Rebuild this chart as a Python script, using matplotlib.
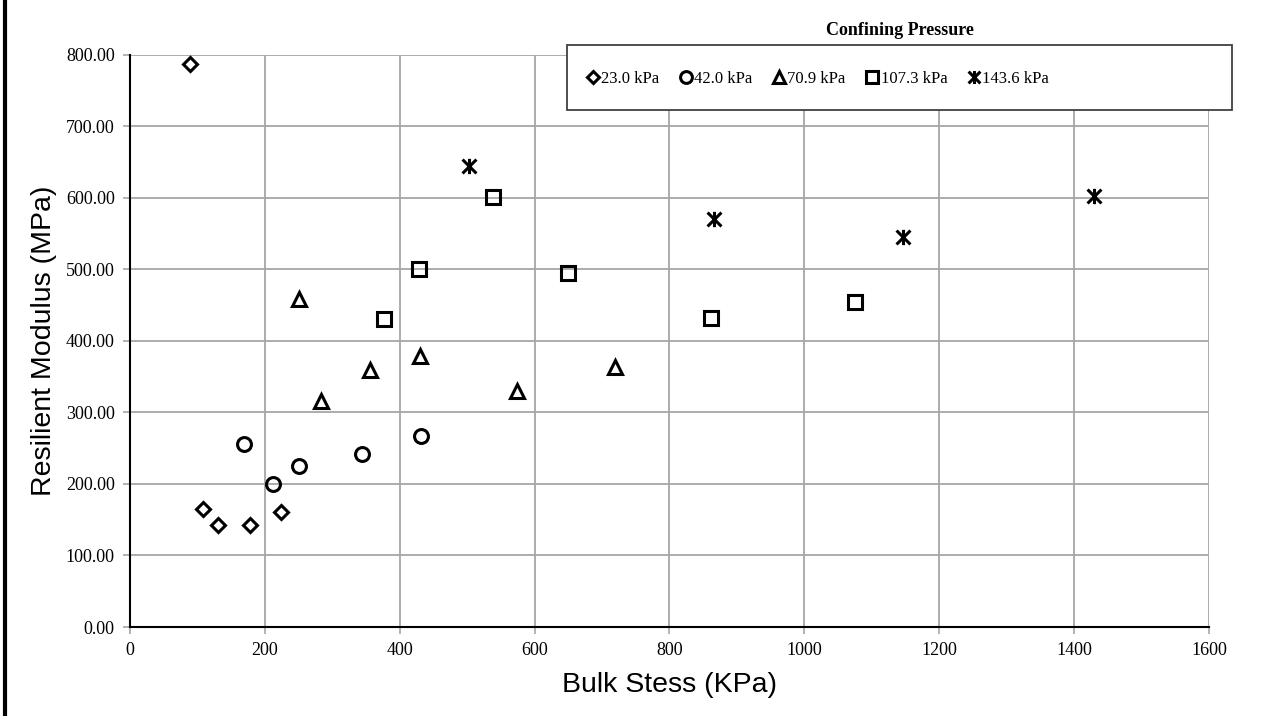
import matplotlib
matplotlib.use("Agg")
from matplotlib import pyplot as plt
from matplotlib.path import Path
from matplotlib.patches import Rectangle
from matplotlib.lines import Line2D
from matplotlib.ticker import FormatStrFormatter

# Bulk stress (kPa) vs. resilient modulus (MPa), grouped by confining pressure
bulk_23 = [89, 108, 130, 178, 224]
mr_23 = [787, 165, 143, 142, 161]

bulk_42 = [169, 212, 251, 344, 431]
mr_42 = [256, 200, 225, 242, 267]

bulk_71 = [250, 283, 356, 430, 574, 719]
mr_71 = [459, 316, 359, 379, 330, 364]

bulk_107 = [376, 429, 539, 649, 861, 1075]
mr_107 = [431, 501, 601, 495, 432, 455]

bulk_144 = [503, 866, 1147, 1429]
mr_144 = [645, 571, 546, 603]

labels = ["23.0 kPa", "42.0 kPa", "70.9 kPa", "107.3 kPa", "143.6 kPa"]

# asterisk-like marker: an X with a vertical stroke
star = Path([(-1, -1), (1, 1), (-1, 1), (1, -1), (0, -1.1), (0, 1.1)],
            [Path.MOVETO, Path.LINETO, Path.MOVETO, Path.LINETO,
             Path.MOVETO, Path.LINETO])

serif = "Liberation Serif"
sans = "Liberation Sans"

fig = plt.figure(figsize=(12.73, 7.16), dpi=100)
ax = fig.add_axes([0.1021, 0.1243, 0.8476, 0.7989])

style = dict(linestyle="none", markerfacecolor="none", markeredgecolor="black",
             markeredgewidth=2.2, clip_on=False)
h1, = ax.plot(bulk_23, mr_23, marker="D", markersize=7, **style)
h2, = ax.plot(bulk_42, mr_42, marker="o", markersize=10, **style)
h3, = ax.plot(bulk_71, mr_71, marker="^", markersize=10, **style)
h4, = ax.plot(bulk_107, mr_107, marker="s", markersize=10, **style)
h5, = ax.plot(bulk_144, mr_144, marker=star, markersize=11, **style)

ax.set_xlim(0, 1600)
ax.set_ylim(0, 800)
ax.set_xticks(range(0, 1601, 200))
ax.set_yticks(range(0, 801, 100))
ax.yaxis.set_major_formatter(FormatStrFormatter("%.2f"))
ax.grid(True, color="#a6a6a6", linewidth=1.3)
ax.set_axisbelow(True)
for side in ["top", "right"]:
    ax.spines[side].set_visible(False)
for side in ["left", "bottom"]:
    ax.spines[side].set_linewidth(1.5)
    ax.spines[side].set_color("black")
ax.tick_params(direction="out", length=5, width=1.2, color="#a6a6a6", pad=6)
for lbl in ax.get_xticklabels() + ax.get_yticklabels():
    lbl.set_fontfamily(serif)
    lbl.set_fontsize(13)

ax.set_xlabel("Bulk Stess (KPa)", fontfamily=sans, fontsize=20.5, labelpad=9)
ax.set_ylabel("Resilient Modulus (MPa)", fontfamily=sans, fontsize=20.5,
              labelpad=6)

# legend box with its title sitting above the frame
box_x, box_y, box_w, box_h = 0.4454, 0.8464, 0.5224, 0.0908
box = Rectangle((box_x, box_y), box_w, box_h, transform=fig.transFigure,
                facecolor="white", edgecolor="#404040", linewidth=1.3, zorder=5)
fig.add_artist(box)
fig.text(0.707, 0.957, "Confining Pressure", fontfamily=serif, fontsize=13,
         fontweight="bold", ha="center", va="center")
leg = fig.legend([h1, h2, h3, h4, h5], labels, loc="center left",
                 bbox_to_anchor=(box_x + 0.015, box_y + box_h / 2 - 0.002),
                 ncol=5, frameon=False, handlelength=0.8, handletextpad=0.1,
                 columnspacing=1.2, prop={"family": serif, "size": 12},
                 markerscale=0.85, borderpad=0, borderaxespad=0)
leg.set_zorder(6)

# heavy rule along the left edge of the figure
fig.add_artist(Line2D([0.004, 0.004], [0, 1], transform=fig.transFigure,
                      color="black", linewidth=3))

fig.savefig("out.png", dpi=100)
